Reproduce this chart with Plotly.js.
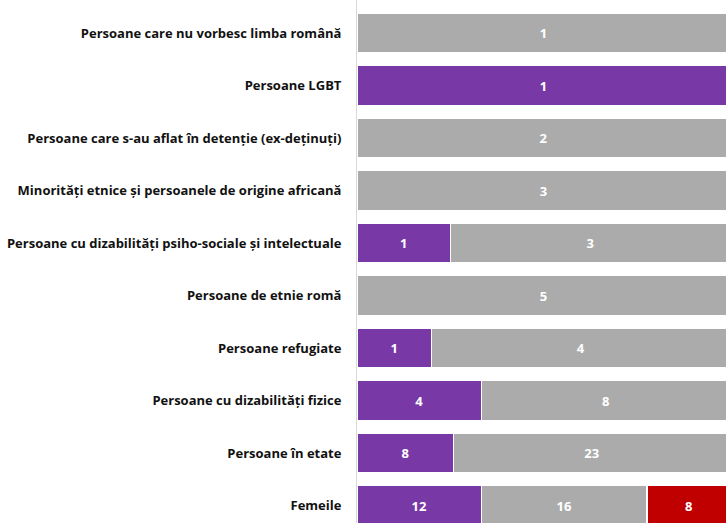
<!DOCTYPE html>
<html>
<head>
<meta charset="utf-8">
<script src="https://cdn.plot.ly/plotly-3.0.1.min.js"></script>
<style>html,body{margin:0;padding:0;background:#fff;}#chart{width:726px;height:523px;}</style>
</head>
<body>
<div id="chart"></div>
<script>
const categories = [
  "Persoane care nu vorbesc limba română",
  "Persoane LGBT",
  "Persoane care s-au aflat în detenție (ex-deținuți)",
  "Minorități etnice și persoanele de origine africană",
  "Persoane cu dizabilități psiho-sociale și intelectuale",
  "Persoane de etnie romă",
  "Persoane refugiate",
  "Persoane cu dizabilități fizice",
  "Persoane în etate",
  "Femeile"
];
const purpleValues = [0, 1, 0, 0, 1, 0, 1, 4, 8, 12];
const grayValues   = [1, 0, 2, 3, 3, 5, 4, 8, 23, 16];
const redValues    = [0, 0, 0, 0, 0, 0, 0, 0, 0, 8];

function mk(vals, color, name) {
  return {
    type: 'bar', orientation: 'h', name: name,
    y: categories, x: vals,
    marker: {color: color, line: {color: '#ffffff', width: 1.5}},
    text: vals.map(v => v ? String(v) : ''),
    textposition: 'inside', insidetextanchor: 'middle',
    textfont: {family: '"Open Sans", sans-serif', size: 13, color: '#ffffff', weight: 'bold'},
    hoverinfo: 'none', cliponaxis: true
  };
}

const data = [
  mk(purpleValues, '#7838A6', 'a'),
  mk(grayValues, '#ABABAB', 'b'),
  mk(redValues, '#C00000', 'c')
];

const layout = {
  width: 726, height: 523,
  margin: {l: 357, r: 0, t: 0, b: 0},
  barmode: 'stack', barnorm: 'percent', bargap: 0.238,
  showlegend: false,
  paper_bgcolor: '#ffffff', plot_bgcolor: '#ffffff',
  xaxis: {range: [0, 98.9], showgrid: false, zeroline: false, showticklabels: false, showline: false, fixedrange: true},
  yaxis: {
    type: 'category', range: [9.333, -0.629],
    showgrid: false, zeroline: false,
    showline: true, linecolor: '#d9d9d9', linewidth: 1,
    ticks: '', ticklabelstandoff: 12,
    tickfont: {family: '"Open Sans", sans-serif', size: 13, color: '#111111', weight: 'bold'}
  },
  font: {family: '"Open Sans", sans-serif'}
};

Plotly.newPlot('chart', data, layout, {staticPlot: true, displayModeBar: false});
</script>
</body>
</html>
